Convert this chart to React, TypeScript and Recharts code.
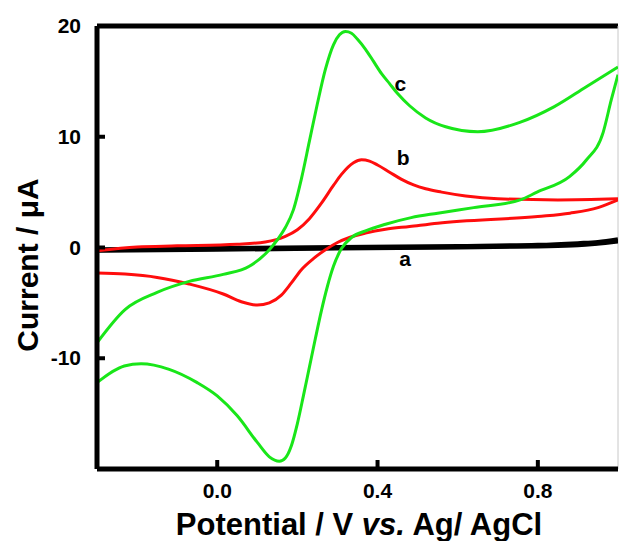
import { LineChart, Line, XAxis, YAxis, ReferenceLine, ReferenceDot, Label } from "recharts";

// potential (V vs Ag/AgCl) and current (uA), ascending potential
const aForwardX = [-0.3, 0.0, 0.3, 0.6, 0.8, 0.9, 0.95, 1.0];
const aForwardY = [-0.2, -0.1, 0.0, 0.1, 0.2, 0.35, 0.45, 0.7];
const aReverseX = [-0.3, 0.0, 0.3, 0.6, 0.8, 0.9, 1.0];
const aReverseY = [-0.3, -0.2, -0.1, 0.0, 0.1, 0.2, 0.55];

const bForwardX = [-0.3, -0.2, -0.1, 0.05, 0.12, 0.17, 0.2, 0.23, 0.26, 0.29, 0.31, 0.34, 0.36, 0.38, 0.4, 0.43, 0.46, 0.49, 0.52, 0.56, 0.62, 0.7, 0.85, 1.0];
const bForwardY = [-0.3, 0.05, 0.15, 0.3, 0.5, 1.0, 1.6, 2.6, 4.0, 5.6, 6.6, 7.65, 7.92, 7.8, 7.45, 6.8, 6.15, 5.65, 5.3, 5.0, 4.65, 4.4, 4.3, 4.4];
const bReverseX = [-0.3, -0.23, -0.15, -0.07, 0.015, 0.06, 0.1, 0.13, 0.16, 0.185, 0.21, 0.24, 0.27, 0.3, 0.33, 0.37, 0.42, 0.48, 0.55, 0.8, 0.88, 0.95, 0.98, 1.0];
const bReverseY = [-2.3, -2.4, -2.7, -3.3, -4.2, -4.9, -5.2, -5.0, -4.3, -3.2, -2.0, -1.0, -0.2, 0.45, 0.9, 1.3, 1.65, 1.9, 2.2, 2.8, 3.1, 3.6, 4.0, 4.3];

const cForwardX = [-0.3, -0.23, -0.15, -0.07, 0.015, 0.08, 0.13, 0.15, 0.17, 0.19, 0.21, 0.23, 0.25, 0.27, 0.29, 0.305, 0.32, 0.335, 0.35, 0.37, 0.39, 0.41, 0.43, 0.45, 0.48, 0.52, 0.57, 0.65, 0.755, 0.84, 0.92, 1.0];
const cForwardY = [-8.6, -5.6, -4.05, -3.06, -2.43, -1.7, -0.2, 0.7, 1.8, 3.4, 6.2, 9.6, 13.0, 16.1, 18.3, 19.2, 19.5, 19.35, 18.8, 17.9, 16.8, 15.7, 14.8, 13.9, 12.8, 11.7, 10.9, 10.45, 11.3, 12.7, 14.5, 16.3];
const cReverseX = [-0.3, -0.232, -0.19, -0.12, -0.05, 0.0, 0.05, 0.1, 0.13, 0.155, 0.17, 0.185, 0.2, 0.215, 0.23, 0.245, 0.26, 0.275, 0.29, 0.31, 0.335, 0.37, 0.42, 0.484, 0.55, 0.64, 0.756, 0.798, 0.879, 0.921, 0.963, 0.983, 1.0];
const cReverseY = [-12.2, -10.7, -10.5, -11.0, -12.2, -13.4, -15.2, -17.6, -18.9, -19.3, -19.0, -17.9, -15.9, -13.4, -10.8, -8.2, -5.7, -3.5, -1.7, -0.1, 0.9, 1.5, 2.1, 2.7, 3.1, 3.6, 4.3, 5.0, 6.4, 7.9, 10.4, 13.3, 15.6];

const xTicks = [0.0, 0.4, 0.8];
const yTicks = [-10, 0, 10, 20];

const curveLabels = [
  { name: "a", x: 0.469, y: -1.0 },
  { name: "b", x: 0.464, y: 8.1 },
  { name: "c", x: 0.457, y: 14.8 },
];

const toPoints = (xs: number[], ys: number[]) => xs.map((x, i) => ({ x, y: ys[i] }));

const FONT = "'Liberation Sans', Arial, sans-serif";
const GREEN = "#19e619";
const RED = "#ff0d0d";

const renderXTick = (props: any) => {
  const { x, y, payload } = props;
  return (
    <g>
      <line x1={x} x2={x} y1={y} y2={y - 9} stroke="#000" strokeWidth={4} />
      <text x={x} y={y + 29} textAnchor="middle" fontSize={21} fontWeight="bold" fontFamily={FONT} fill="#000">
        {Number(payload.value).toFixed(1)}
      </text>
    </g>
  );
};

const renderYTick = (props: any) => {
  const { x, y, payload } = props;
  return (
    <g>
      <line x1={x} x2={x + 8} y1={y} y2={y} stroke="#000" strokeWidth={4} />
      <text x={x - 16} y={y + 7} textAnchor="end" fontSize={21} fontWeight="bold" fontFamily={FONT} fill="#000">
        {payload.value}
      </text>
    </g>
  );
};

export default function App() {
  const series = [
    { key: "aF", data: toPoints(aForwardX, aForwardY), color: "#000", w: 5 },
    { key: "aR", data: toPoints(aReverseX, aReverseY), color: "#000", w: 4 },
    { key: "bF", data: toPoints(bForwardX, bForwardY), color: RED, w: 3 },
    { key: "bR", data: toPoints(bReverseX, bReverseY), color: RED, w: 3 },
    { key: "cF", data: toPoints(cForwardX, cForwardY), color: GREEN, w: 3 },
    { key: "cR", data: toPoints(cReverseX, cReverseY), color: GREEN, w: 3 },
  ];

  return (
    <div style={{ position: "fixed", left: 0, top: 0, width: 619, height: 541, background: "#fff" }}>
      <LineChart width={619} height={541} margin={{ top: 26, right: 1, left: 0, bottom: 0 }}>
        <XAxis
          type="number"
          dataKey="x"
          domain={[-0.3, 1.0]}
          ticks={xTicks}
          interval={0}
          height={72}
          tickSize={0}
          tickMargin={0}
          tickLine={false}
          tick={renderXTick}
          axisLine={{ stroke: "#000", strokeWidth: 5 }}
          allowDataOverflow
        >
          <Label
            content={() => (
              <text x={359} y={535} textAnchor="middle" fontSize={31} fontWeight="bold" fontFamily={FONT} fill="#000">
                Potential / V <tspan fontStyle="italic">vs.</tspan> Ag/ AgCl
              </text>
            )}
          />
        </XAxis>
        <YAxis
          type="number"
          dataKey="y"
          domain={[-20, 20]}
          ticks={yTicks}
          interval={0}
          width={97}
          tickSize={0}
          tickMargin={0}
          tickLine={false}
          tick={renderYTick}
          axisLine={{ stroke: "#000", strokeWidth: 5 }}
          allowDataOverflow
        >
          <Label
            content={() => (
              <text
                x={38}
                y={265}
                textAnchor="middle"
                fontSize={30}
                fontWeight="bold"
                fontFamily={FONT}
                fill="#000"
                transform="rotate(-90, 38, 265)"
              >
                Current / μA
              </text>
            )}
          />
        </YAxis>
        <ReferenceLine y={20} stroke="#000" strokeWidth={5} />
        <ReferenceLine x={1.0} stroke="#c8c8c8" strokeWidth={1} />
        {series.map((s) => (
          <Line
            key={s.key}
            data={s.data}
            dataKey="y"
            type="monotone"
            stroke={s.color}
            strokeWidth={s.w}
            dot={false}
            activeDot={false}
            isAnimationActive={false}
          />
        ))}
        {curveLabels.map((c) => (
          <ReferenceDot
            key={c.name}
            x={c.x}
            y={c.y}
            r={0}
            stroke="none"
            fill="none"
            label={{ value: c.name, position: "center", fontSize: 21, fontWeight: "bold", fill: "#000", fontFamily: FONT }}
          />
        ))}
      </LineChart>
    </div>
  );
}
